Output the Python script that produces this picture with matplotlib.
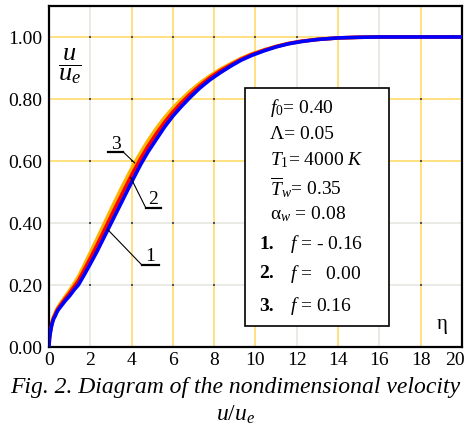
import numpy as np
import matplotlib
matplotlib.use("Agg")
import matplotlib.pyplot as plt
import matplotlib.transforms as mtransforms
from matplotlib.patches import Rectangle

plt.rcParams['font.family'] = ['Liberation Serif', 'DejaVu Serif']
plt.rcParams['mathtext.fontset'] = 'custom'
plt.rcParams['mathtext.rm'] = 'Liberation Serif'
plt.rcParams['mathtext.it'] = 'Liberation Serif:italic'
plt.rcParams['mathtext.bf'] = 'Liberation Serif:bold'

# velocity profiles u/u_e vs eta for f = -0.16, 0.00, 0.16
eta = [0, 0.02, 0.05, 0.1, 0.15, 0.22, 0.3, 0.38, 0.45, 0.6, 0.8, 1.0, 1.2, 1.42, 1.7,
       2.0, 2.3, 2.6, 2.9, 3.2, 3.5, 3.8, 4.1, 4.45, 4.8, 5.2, 5.6, 6.0, 6.4, 6.83,
       7.3, 7.8, 8.3, 8.8, 9.3, 9.8, 10.4, 11, 11.6, 12.2, 13, 14, 15, 16, 20]
u_1 = [0, 0.025, 0.04, 0.06, 0.075, 0.09, 0.10, 0.112, 0.12, 0.133, 0.15, 0.165, 0.183,
       0.20, 0.232, 0.268, 0.305, 0.345, 0.385, 0.425, 0.465, 0.505, 0.545, 0.59, 0.63,
       0.67, 0.71, 0.745, 0.775, 0.805, 0.835, 0.862, 0.885, 0.906, 0.925, 0.94, 0.955,
       0.968, 0.978, 0.985, 0.992, 0.997, 0.999, 1.0, 1.0]
u_2 = [0, 0.027, 0.043, 0.063, 0.079, 0.094, 0.105, 0.117, 0.125, 0.139, 0.157, 0.174,
       0.193, 0.213, 0.248, 0.286, 0.325, 0.366, 0.407, 0.448, 0.488, 0.528, 0.567, 0.609,
       0.648, 0.688, 0.725, 0.758, 0.787, 0.815, 0.843, 0.869, 0.891, 0.910, 0.928, 0.943,
       0.957, 0.969, 0.979, 0.986, 0.992, 0.997, 0.999, 1.0, 1.0]
u_3 = [0, 0.029, 0.046, 0.066, 0.083, 0.098, 0.11, 0.122, 0.13, 0.145, 0.164, 0.183,
       0.203, 0.226, 0.263, 0.304, 0.345, 0.387, 0.429, 0.47, 0.511, 0.55, 0.588, 0.628,
       0.666, 0.705, 0.74, 0.771, 0.798, 0.825, 0.851, 0.875, 0.896, 0.914, 0.931, 0.945,
       0.958, 0.97, 0.979, 0.986, 0.992, 0.997, 0.999, 1.0, 1.0]

xticks = np.arange(0, 21, 2)
yticks = [0.0, 0.2, 0.4, 0.6, 0.8, 1.0]
gold_x = [4, 6, 8, 10, 14, 18]
gold_y = [0.6, 0.8, 1.0]

params = [r"$f_0$= 0.40", "Λ= 0.05", r"$T_1$= 4000 $K$", r"$\overline{T}_w$= 0.35",
          r"α$_w$ = 0.08"]
cases = [("1.", r"$f$ = - 0.16"), ("2.", r"$f$ =   0.00"), ("3.", r"$f$ = 0.16")]

GOLD = '#FFD75E'
GREY = '#E6E6DE'

fig = plt.figure(figsize=(4.69, 4.31), dpi=100)
ax = fig.add_axes([0.1045, 0.1926, 0.8805, 0.7912])
ax.set_xlim(0, 20)
ax.set_ylim(0, 1.10)

# grid: some lines gold, the rest light grey
for x in xticks[1:-1]:
    ax.axvline(x, color=GOLD if x in gold_x else GREY, lw=1.1, zorder=0)
for y in yticks[1:]:
    ax.axhline(y, color=GOLD if y in gold_y else GREY, lw=1.1, zorder=0)
gx, gy = np.meshgrid(xticks[1:-1], yticks[1:])
ax.scatter(gx.ravel(), gy.ravel(), marker='s', s=1.5, color='#555555', lw=0, zorder=0.5)

ax.plot(eta, u_3, color='#FFB400', lw=2.6, zorder=2)
ax.plot(eta, u_2, color='#FF0000', lw=2.6, zorder=3)
ax.plot(eta, u_1, color='#0000FF', lw=2.6, zorder=4)

ax.set_xticks(xticks)
ax.set_yticks(yticks)
ax.set_yticklabels([f"{v:.2f}" for v in yticks])
ax.tick_params(length=0, labelsize=14)
ax.tick_params(axis='y', pad=5)
ax.tick_params(axis='x', pad=3)
# keep "20" inside the figure
last = ax.get_xticklabels()[-1]
last.set_transform(last.get_transform() + mtransforms.ScaledTranslation(-5 / 72, 0, fig.dpi_scale_trans))
for s in ax.spines.values():
    s.set_linewidth(1.6)

# curve labels with underline and leader line
def label(num, tx, ty, x0, x1, yl, start, e, us):
    ax.text(tx, ty, num, fontsize=14, ha='center', va='bottom', zorder=6)
    ax.plot([x0, x1], [yl, yl], color='k', lw=1.6, zorder=6)
    ax.plot([start, e], [yl, np.interp(e, eta, us)], color='k', lw=0.8, zorder=6)

label("3", 3.22, 0.628, 2.86, 3.58, 0.63, 3.58, 4.15, u_3)
label("2", 5.06, 0.45, 4.70, 5.42, 0.447, 4.70, 3.95, u_2)
label("1", 4.92, 0.268, 4.49, 5.35, 0.265, 4.49, 2.85, u_1)

ax.text(1.0, 0.91, r"$\dfrac{u}{u_e}$", fontsize=19, ha='center', va='center')
ax.text(19.03, 0.075, "η", fontsize=15, ha='center', va='center')

# parameter box
ax.add_patch(Rectangle((9.49, 0.068), 16.46 - 9.49, 0.835 - 0.068, facecolor='white',
                       edgecolor='k', lw=1.2, zorder=5))
for s, y in zip(params, [0.774, 0.690, 0.606, 0.516, 0.432]):
    ax.text(10.70, y, s, fontsize=14, ha='left', va='center', zorder=6)
for (n, s), y in zip(cases, [0.335, 0.239, 0.135]):
    ax.text(10.17, y, n, fontsize=14, fontweight='bold', ha='left', va='center', zorder=6)
    ax.text(11.67, y, s, fontsize=14, ha='left', va='center', zorder=6)

fig.text(0.502, 0.0998, "Fig. 2. Diagram of the nondimensional velocity", fontsize=17,
         style='italic', ha='center', va='center')
fig.text(0.502, 0.037, r"$u/u_e$", fontsize=17, ha='center', va='center')

fig.savefig("out.png", dpi=100)
